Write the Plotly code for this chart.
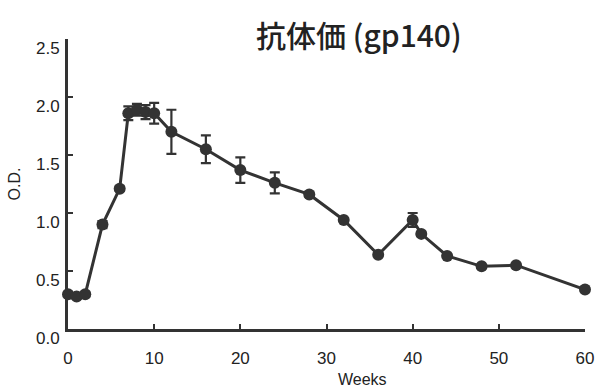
import plotly.graph_objects as go

weeks = [0, 1, 2, 4, 6, 7, 8, 9, 10, 12, 16, 20, 24, 28, 32, 36, 40, 41, 44, 48, 52, 60]
od = [0.30, 0.28, 0.30, 0.90, 1.21, 1.86, 1.89, 1.87, 1.86, 1.70, 1.55, 1.37, 1.26, 1.16, 0.94, 0.64, 0.94, 0.82, 0.63, 0.54, 0.55, 0.34]
err = [0.02, 0.02, 0.02, 0.03, 0.02, 0.06, 0.05, 0.06, 0.09, 0.19, 0.12, 0.11, 0.09, 0.02, 0.01, 0.01, 0.06, 0.02, 0.01, 0.01, 0.01, 0.01]

x_ticks = [0, 10, 20, 30, 40, 50, 60]
y_ticks = [0.0, 0.5, 1.0, 1.5, 2.0, 2.5]
y_tick_labels = ["0.0", "0.5", "1.0", "1.5", "2.0", "2.5"]

ink = "#333333"
txt = "#222222"

fig = go.Figure()
fig.add_trace(go.Scatter(
    x=weeks, y=od, mode="lines+markers",
    line=dict(color=ink, width=3),
    marker=dict(color=ink, size=12),
    error_y=dict(type="data", array=err, color=ink, thickness=2.2, width=5, visible=True),
    cliponaxis=False, showlegend=False,
))

fig.update_layout(
    width=606, height=389,
    margin=dict(l=68, r=17, t=39, b=60),
    paper_bgcolor="white", plot_bgcolor="white",
    font=dict(family="Liberation Sans, Arial, sans-serif", color=txt),
    xaxis=dict(range=[0, 60], tickvals=x_ticks, ticks="inside", ticklen=5, tickwidth=2,
               tickcolor=ink, showline=True, linecolor=ink, linewidth=3, showgrid=False,
               zeroline=False, tickfont=dict(size=17), layer="above traces",
               ticklabelstandoff=12),
    yaxis=dict(range=[0, 2.5], tickvals=y_ticks, ticktext=y_tick_labels, ticks="inside",
               ticklen=5, tickwidth=2, tickcolor=ink, showline=True, linecolor=ink,
               linewidth=3, showgrid=False, zeroline=False, tickfont=dict(size=17),
               layer="above traces", ticklabelshift=9, ticklabelstandoff=2,
               title=dict(text="O.D.", font=dict(size=16), standoff=12)),
    annotations=[
        dict(text="抗体価 (gp140)", x=(361 - 68) / 521, y=(329 - 34) / 290,
             xref="paper", yref="paper", xanchor="center", yanchor="middle",
             showarrow=False,
             font=dict(size=30, family="Noto Sans CJK JP, sans-serif", color=txt, weight=500)),
        dict(text="Weeks", x=(365 - 68) / 521, y=-(379 - 329) / 290, xref="paper", yref="paper",
             xanchor="center", yanchor="middle", showarrow=False, font=dict(size=16)),
    ],
)

fig.write_html("out.html", config={"displayModeBar": False},
               post_script="document.body.style.margin='0';")
